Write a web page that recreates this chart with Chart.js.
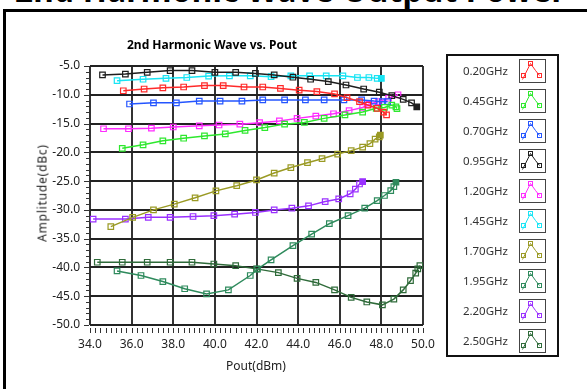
<!DOCTYPE html>
<html>
<head>
<meta charset="utf-8">
<script src="https://cdn.jsdelivr.net/npm/chart.js@4/dist/chart.umd.min.js"></script>
<style>
  html, body { margin: 0; padding: 0; background: #fff; }
  body { width: 587px; height: 389px; position: relative; overflow: hidden; font-family: "Noto Sans", sans-serif; }
  #banner { position: absolute; left: 15px; top: -32px; font: bold 31.5px "Noto Sans", sans-serif; color: #000; white-space: nowrap; letter-spacing: 0.3px; }
  #frame { position: absolute; left: 3px; top: 9px; right: -10px; bottom: -10px; border-left: 3px solid #000; border-top: 3px solid #000; background: #fff; }
  #plotTitle { position: absolute; left: 212px; top: 36px; transform: translateX(-50%); font: bold 12px "Noto Sans", sans-serif; color: #000; white-space: nowrap; }
  #yTitle { position: absolute; left: 42px; top: 193px; transform: translate(-50%, -50%) rotate(-90deg); font: 12px "Noto Sans", sans-serif; letter-spacing: 0.8px; color: #222; white-space: nowrap; }
  #xTitle { position: absolute; left: 256px; top: 357px; transform: translateX(-50%); font: 12px "Noto Sans", sans-serif; color: #222; white-space: nowrap; }
  canvas { position: absolute; left: 0; top: 0; }
</style>
</head>
<body>
<div id="banner">2nd Harmonic Wave Output Power</div>
<div id="frame"></div>
<canvas id="c" width="587" height="389"></canvas>
<div id="plotTitle">2nd Harmonic Wave vs. Pout</div>
<div id="yTitle">Amplitude(dBc)</div>
<div id="xTitle">Pout(dBm)</div>
<script>
// Frequencies of the sweep (legend entries)
const frequencies = ["0.20GHz", "0.45GHz", "0.70GHz", "0.95GHz", "1.20GHz", "1.45GHz", "1.70GHz", "1.95GHz", "2.20GHz", "2.50GHz"];

// Output power (dBm) and 2nd harmonic amplitude (dBc) per frequency
const pout020 = [35.6, 36.6, 37.5, 38.5, 39.5, 40.4, 41.4, 42.3, 43.15, 44.05, 44.9, 45.75, 46.35, 46.95, 47.35, 47.8, 48.1, 48.25];
const amp020  = [-9.3, -9.0, -8.8, -8.65, -8.4, -8.4, -8.65, -8.65, -8.9, -9.2, -9.45, -9.85, -10.5, -11.2, -11.8, -12.35, -13.0, -13.5];

const pout045 = [35.55, 36.55, 37.5, 38.5, 39.5, 40.5, 41.45, 42.4, 43.35, 44.3, 45.25, 46.25, 47.1, 47.75, 48.15, 48.5, 48.7, 48.75];
const amp045  = [-19.3, -18.7, -18.0, -17.55, -17.15, -16.8, -16.2, -15.7, -15.1, -14.8, -14.1, -13.5, -13.0, -12.35, -12.2, -11.8, -12.1, -12.4];

const pout070 = [35.9, 37.05, 38.15, 39.25, 40.25, 41.3, 42.3, 43.35, 44.35, 45.25, 46.2, 47.05, 47.65, 48.05, 48.3];
const amp070  = [-11.6, -11.4, -11.4, -11.1, -11.1, -11.1, -10.9, -10.9, -10.9, -10.9, -10.9, -10.9, -11.1, -11.2, -11.2];

const pout095 = [34.6, 35.7, 36.75, 37.85, 38.9, 40.0, 41.0, 41.95, 42.85, 43.75, 44.6, 45.45, 46.3, 47.15, 47.9, 48.5, 49.05, 49.45, 49.7];
const amp095  = [-6.55, -6.4, -6.1, -5.8, -5.8, -6.1, -6.1, -6.3, -6.55, -6.95, -7.3, -7.7, -8.3, -9.0, -9.55, -10.15, -10.8, -11.4, -12.1];

const pout120 = [34.65, 35.85, 36.95, 38.0, 39.25, 40.2, 41.2, 42.15, 43.1, 43.95, 44.85, 45.7, 46.45, 47.1, 47.4, 47.85, 48.35, 48.8];
const amp120  = [-15.9, -15.9, -15.8, -15.6, -15.4, -15.25, -15.1, -14.85, -14.55, -14.1, -13.7, -13.3, -12.75, -12.2, -11.65, -11.2, -10.6, -10.0];

const pout145 = [35.3, 36.55, 37.65, 38.65, 39.7, 40.7, 41.7, 42.7, 43.65, 44.55, 45.35, 46.15, 46.85, 47.4, 47.8, 48.0];
const amp145  = [-7.55, -7.3, -7.15, -7.0, -6.75, -6.7, -6.7, -6.85, -6.7, -6.7, -6.7, -6.7, -7.0, -7.0, -7.15, -7.15];

const pout170 = [35.0, 36.05, 37.05, 38.05, 39.05, 40.05, 41.05, 42.0, 42.85, 43.65, 44.45, 45.15, 45.9, 46.55, 47.1, 47.45, 47.7, 47.9, 47.95];
const amp170  = [-32.9, -31.3, -30.0, -29.0, -27.9, -26.7, -25.8, -24.8, -23.6, -22.65, -21.8, -21.1, -20.3, -19.7, -19.1, -18.5, -17.7, -17.3, -17.0];

const pout195 = [35.3, 36.45, 37.5, 38.55, 39.6, 40.65, 41.7, 42.05, 42.7, 43.75, 44.65, 45.5, 46.4, 47.2, 47.8, 48.15, 48.45, 48.6, 48.7];
const amp195  = [-40.6, -41.4, -42.45, -43.7, -44.6, -43.9, -41.4, -40.3, -38.7, -36.2, -34.2, -32.4, -31.0, -29.7, -28.4, -27.5, -26.65, -25.95, -25.2];

const pout220 = [34.15, 35.7, 36.8, 37.85, 38.95, 39.95, 40.95, 41.95, 42.85, 43.7, 44.5, 45.3, 45.95, 46.5, 46.75, 46.95, 47.1];
const amp220  = [-31.6, -31.6, -31.3, -31.3, -31.15, -31.0, -30.75, -30.45, -30.0, -29.7, -29.3, -28.55, -28.1, -27.2, -26.4, -25.5, -25.1];

const pout250 = [34.35, 35.55, 36.75, 37.85, 38.9, 39.95, 41.0, 42.0, 43.05, 43.95, 44.85, 45.75, 46.55, 47.3, 48.05, 48.6, 49.05, 49.4, 49.65, 49.75, 49.85];
const amp250  = [-39.1, -39.1, -39.1, -39.1, -39.1, -39.4, -39.7, -40.25, -40.9, -41.9, -42.6, -43.9, -45.2, -46.0, -46.5, -45.5, -43.9, -42.3, -41.0, -40.25, -39.7];

// Axis ranges and tick labels
const xTicks = ["34.0", "36.0", "38.0", "40.0", "42.0", "44.0", "46.0", "48.0", "50.0"];
const yTicks = ["-5.0", "-10.0", "-15.0", "-20.0", "-25.0", "-30.0", "-35.0", "-40.0", "-45.0", "-50.0"];

const seriesX = [pout020, pout045, pout070, pout095, pout120, pout145, pout170, pout195, pout220, pout250];
const seriesY = [amp020, amp045, amp070, amp095, amp120, amp145, amp170, amp195, amp220, amp250];
const colors = ["#ff2a2a", "#2ee82e", "#2455ff", "#1e1e1e", "#ff2cff", "#18e4f4", "#9a9a24", "#2e8a5c", "#9a30ff", "#2f6b3a"];
const filledLast = [false, false, false, true, false, true, true, true, true, false];

const xMin = parseFloat(xTicks[0]), xMax = parseFloat(xTicks[xTicks.length - 1]);
const yMax = parseFloat(yTicks[0]), yMin = parseFloat(yTicks[yTicks.length - 1]);

const datasets = frequencies.map((f, i) => ({
  label: f,
  data: seriesX[i].map((x, k) => ({ x: x, y: seriesY[i][k] })),
  borderColor: colors[i],
  borderWidth: 1.5,
  pointStyle: 'rect',
  pointRadius: 3.9,
  pointBorderWidth: 1.2,
  pointBorderColor: colors[i],
  pointBackgroundColor: ctx => (filledLast[i] && ctx.dataIndex === seriesX[i].length - 1) ? colors[i] : 'rgba(255,255,255,0)',
  tension: 0,
  fill: false
}));

// Minor tick marks outside the plot frame
const minorTicks = {
  id: 'minorTicks',
  afterDraw(chart) {
    const { ctx, chartArea: a, scales: { x, y } } = chart;
    ctx.save();
    ctx.strokeStyle = '#333';
    ctx.lineWidth = 1;
    ctx.beginPath();
    for (let v = xMin; v <= xMax + 1e-9; v += 0.25) {
      const px = Math.round(x.getPixelForValue(v)) + 0.5;
      ctx.moveTo(px, a.bottom + 3);
      ctx.lineTo(px, a.bottom + 8);
    }
    for (let v = yMin; v <= yMax + 1e-9; v += 1) {
      const py = Math.round(y.getPixelForValue(v)) + 0.5;
      const major = Math.abs(v % 5) < 1e-9;
      ctx.moveTo(a.left - (major ? 6 : 4), py);
      ctx.lineTo(a.left - 1, py);
    }
    ctx.stroke();
    ctx.restore();
  }
};

// Boxed legend on the right with a small sample icon per series
const boxedLegend = {
  id: 'boxedLegend',
  afterDraw(chart) {
    const { ctx } = chart;
    const bx = 447, by = 55, bw = 111, bh = 301, pitch = 30;
    ctx.save();
    ctx.fillStyle = '#fff';
    ctx.fillRect(bx, by, bw, bh);
    ctx.strokeStyle = '#111';
    ctx.lineWidth = 2;
    ctx.strokeRect(bx, by, bw, bh);
    ctx.font = '11.5px "Noto Sans", sans-serif';
    ctx.textAlign = 'right';
    ctx.textBaseline = 'middle';
    chart.data.datasets.forEach((ds, i) => {
      const cy = by + 17 + i * pitch;
      ctx.fillStyle = '#333';
      ctx.fillText(ds.label, 508, cy);
      const ix = 519.5, iy = cy - 12.5;
      ctx.strokeStyle = '#444';
      ctx.lineWidth = 1;
      ctx.strokeRect(ix, iy, 26, 23);
      ctx.strokeStyle = ds.borderColor;
      ctx.lineWidth = 1;
      ctx.beginPath();
      ctx.moveTo(ix + 3, iy + 20);
      ctx.lineTo(ix + 11, iy + 4);
      ctx.lineTo(ix + 16, iy + 11);
      ctx.lineTo(ix + 20, iy + 16);
      ctx.stroke();
      [[11, 4], [4, 16], [20, 16]].forEach(([dx, dy]) => {
        ctx.strokeRect(ix + dx - 2, iy + dy - 2, 4, 4);
      });
    });
    ctx.restore();
  }
};

new Chart(document.getElementById('c'), {
  type: 'line',
  data: { datasets },
  options: {
    responsive: false,
    animation: false,
    layout: { padding: { left: 0, top: 66, right: 164, bottom: 24 } },
    plugins: { legend: { display: false }, title: { display: false }, tooltip: { enabled: false } },
    scales: {
      x: {
        type: 'linear',
        min: xMin, max: xMax,
        afterFit: s => { s.height = 40; },
        afterBuildTicks: s => { s.ticks = xTicks.map(t => ({ value: parseFloat(t) })); },
        ticks: { callback: v => v.toFixed(1), color: '#222', font: { family: 'Noto Sans', size: 12 }, padding: 12, maxRotation: 0 },
        grid: { color: '#333', lineWidth: 2, drawTicks: false },
        border: { display: false }
      },
      y: {
        type: 'linear',
        min: yMin, max: yMax,
        afterFit: s => { s.width = 90; },
        afterBuildTicks: s => { s.ticks = yTicks.map(t => ({ value: parseFloat(t) })); },
        ticks: { callback: v => v.toFixed(1), color: '#222', font: { family: 'Noto Sans', size: 12 }, padding: 10 },
        grid: { color: '#222', lineWidth: 2, drawTicks: false },
        border: { display: false }
      }
    }
  },
  plugins: [minorTicks, boxedLegend]
});
</script>
</body>
</html>
